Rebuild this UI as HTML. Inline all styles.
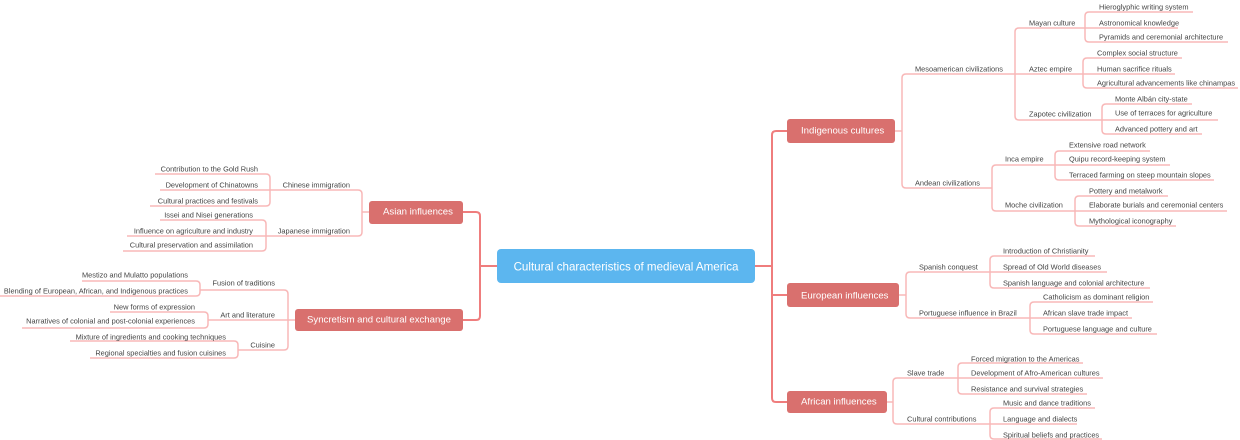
<!DOCTYPE html>
<html><head><meta charset="utf-8"><style>
html,body{margin:0;padding:0;background:#fff;width:1240px;height:440px;overflow:hidden}
svg{display:block}
text{font-family:"Liberation Sans",sans-serif}
.s{font-size:7.4px;fill:#444;dominant-baseline:central}
.r{text-anchor:end}
.m{font-size:9.6px;fill:#fff;dominant-baseline:central}
.c{font-size:11.6px;fill:#fff;dominant-baseline:central;text-anchor:middle}
.l{fill:none;stroke:#f8b8b8;stroke-width:1.5}
.t{fill:none;stroke:#ef7d7d;stroke-width:2}
</style></head><body>
<svg width="1240" height="440" viewBox="0 0 1240 440">
<!-- trunks -->
<path class="t" d="M755,266 H772 M787,131 H776 Q772,131 772,135 V398 Q772,402 776,402 H787 M772,295 H787"/>
<path class="t" d="M497,266 H480 M463,212 H476 Q480,212 480,216 V316 Q480,320 476,320 H463"/>
<rect x="497" y="249" width="258" height="34" rx="4" fill="#5cb6ef"/>
<text class="c" x="626" y="267">Cultural characteristics of medieval America</text>
<rect x="787" y="119" width="108" height="24" rx="3" fill="#d9706e"/>
<text class="m" x="801" y="131">Indigenous cultures</text>
<rect x="787" y="283" width="112" height="24" rx="3" fill="#d9706e"/>
<text class="m" x="801" y="296">European influences</text>
<rect x="787" y="391" width="100" height="22" rx="3" fill="#d9706e"/>
<text class="m" x="801" y="402">African influences</text>
<rect x="369" y="201" width="94" height="23" rx="3" fill="#d9706e"/>
<text class="m" x="383" y="212">Asian influences</text>
<rect x="295" y="309" width="168" height="22" rx="3" fill="#d9706e"/>
<text class="m" x="307" y="320">Syncretism and cultural exchange</text>

<!-- Indigenous -->
<path class="l" d="M895,131 H902 M902,131 V78 Q902,74 906,74 H1015 M902,131 V184 Q902,188 906,188 H992"/>
<text class="s" x="915" y="69">Mesoamerican civilizations</text>
<text class="s" x="915" y="183">Andean civilizations</text>
<path class="l" d="M1015,74 V32 Q1015,28 1019,28 H1085 M1015,74 H1083 M1015,74 V116 Q1015,120 1019,120 H1102"/>
<text class="s" x="1029" y="23">Mayan culture</text>
<text class="s" x="1029" y="69">Aztec empire</text>
<text class="s" x="1029" y="114">Zapotec civilization</text>
<path class="l" d="M1085,28 V16 Q1085,12 1089,12 H1193 M1085,28 H1178 M1085,28 V38 Q1085,42 1089,42 H1228"/>
<text class="s" x="1099" y="7">Hieroglyphic writing system</text>
<text class="s" x="1099" y="23">Astronomical knowledge</text>
<text class="s" x="1099" y="37">Pyramids and ceremonial architecture</text>
<path class="l" d="M1083,74 V62 Q1083,58 1087,58 H1182 M1083,74 H1175 M1083,74 V84 Q1083,88 1087,88 H1238"/>
<text class="s" x="1097" y="53">Complex social structure</text>
<text class="s" x="1097" y="69">Human sacrifice rituals</text>
<text class="s" x="1097" y="83">Agricultural advancements like chinampas</text>
<path class="l" d="M1102,120 V108 Q1102,104 1106,104 H1192 M1102,120 H1218 M1102,120 V130 Q1102,134 1106,134 H1202"/>
<text class="s" x="1115" y="99">Monte Albán city-state</text>
<text class="s" x="1115" y="113">Use of terraces for agriculture</text>
<text class="s" x="1115" y="129">Advanced pottery and art</text>
<path class="l" d="M992,188 V169 Q992,165 996,165 H1055 M992,188 V207 Q992,211 996,211 H1075"/>
<text class="s" x="1005" y="159">Inca empire</text>
<text class="s" x="1005" y="205">Moche civilization</text>
<path class="l" d="M1055,165 V155 Q1055,151 1059,151 H1150 M1055,165 H1170 M1055,165 V176 Q1055,180 1059,180 H1214"/>
<text class="s" x="1069" y="145">Extensive road network</text>
<text class="s" x="1069" y="159">Quipu record-keeping system</text>
<text class="s" x="1069" y="175">Terraced farming on steep mountain slopes</text>
<path class="l" d="M1075,211 V200 Q1075,196 1079,196 H1168 M1075,211 H1227 M1075,211 V222 Q1075,226 1079,226 H1176"/>
<text class="s" x="1089" y="191">Pottery and metalwork</text>
<text class="s" x="1089" y="205">Elaborate burials and ceremonial centers</text>
<text class="s" x="1089" y="221">Mythological iconography</text>

<!-- European -->
<path class="l" d="M899,295 H906 M906,295 V276 Q906,272 910,272 H990 M906,295 V314 Q906,318 910,318 H1030"/>
<text class="s" x="919" y="267">Spanish conquest</text>
<text class="s" x="919" y="313">Portuguese influence in Brazil</text>
<path class="l" d="M990,272 V260 Q990,256 994,256 H1095 M990,272 H1107 M990,272 V284 Q990,288 994,288 H1150"/>
<text class="s" x="1003" y="251">Introduction of Christianity</text>
<text class="s" x="1003" y="267">Spread of Old World diseases</text>
<text class="s" x="1003" y="283">Spanish language and colonial architecture</text>
<path class="l" d="M1030,318 V306 Q1030,302 1034,302 H1153 M1030,318 H1132 M1030,318 V330 Q1030,334 1034,334 H1157"/>
<text class="s" x="1043" y="297">Catholicism as dominant religion</text>
<text class="s" x="1043" y="313">African slave trade impact</text>
<text class="s" x="1043" y="329">Portuguese language and culture</text>

<!-- African -->
<path class="l" d="M887,402 H893 M893,402 V382 Q893,378 897,378 H958 M893,402 V420 Q893,424 897,424 H990"/>
<text class="s" x="907" y="373">Slave trade</text>
<text class="s" x="907" y="419">Cultural contributions</text>
<path class="l" d="M958,378 V367 Q958,363 962,363 H1083 M958,378 H1103 M958,378 V390 Q958,394 962,394 H1087"/>
<text class="s" x="971" y="359">Forced migration to the Americas</text>
<text class="s" x="971" y="373">Development of Afro-American cultures</text>
<text class="s" x="971" y="389">Resistance and survival strategies</text>
<path class="l" d="M990,424 V412 Q990,408 994,408 H1095 M990,424 H1077 M990,424 V435 Q990,439 994,439 H1102"/>
<text class="s" x="1003" y="403">Music and dance traditions</text>
<text class="s" x="1003" y="419">Language and dialects</text>
<text class="s" x="1003" y="435">Spiritual beliefs and practices</text>

<!-- Asian -->
<path class="l" d="M369,212 H362 M362,212 V194 Q362,190 358,190 H270 M362,212 V232 Q362,236 358,236 H266"/>
<text class="s r" x="350" y="185">Chinese immigration</text>
<text class="s r" x="350" y="231">Japanese immigration</text>
<path class="l" d="M270,190 V178 Q270,174 266,174 H155 M270,190 H160 M270,190 V202 Q270,206 266,206 H150"/>
<text class="s r" x="258" y="169">Contribution to the Gold Rush</text>
<text class="s r" x="258" y="185">Development of Chinatowns</text>
<text class="s r" x="258" y="201">Cultural practices and festivals</text>
<path class="l" d="M266,236 V224 Q266,220 262,220 H160 M266,236 H127 M266,236 V247 Q266,251 262,251 H123"/>
<text class="s r" x="253" y="215">Issei and Nisei generations</text>
<text class="s r" x="253" y="231">Influence on agriculture and industry</text>
<text class="s r" x="253" y="245">Cultural preservation and assimilation</text>

<!-- Syncretism -->
<path class="l" d="M295,320 H288 M288,320 V294 Q288,290 284,290 H200 M288,320 H208 M288,320 V346 Q288,350 284,350 H238"/>
<text class="s r" x="275" y="283">Fusion of traditions</text>
<text class="s r" x="275" y="315">Art and literature</text>
<text class="s r" x="275" y="345">Cuisine</text>
<path class="l" d="M200,290 V285 Q200,281 196,281 H82 M200,290 V292 Q200,296 196,296 H0"/>
<text class="s r" x="188" y="275">Mestizo and Mulatto populations</text>
<text class="s r" x="188" y="291">Blending of European, African, and Indigenous practices</text>
<path class="l" d="M208,320 V316 Q208,312 204,312 H110 M208,320 V324 Q208,328 204,328 H22"/>
<text class="s r" x="195" y="307">New forms of expression</text>
<text class="s r" x="195" y="321">Narratives of colonial and post-colonial experiences</text>
<path class="l" d="M238,350 V345 Q238,341 234,341 H70 M238,350 V354 Q238,358 234,358 H90"/>
<text class="s r" x="226" y="337">Mixture of ingredients and cooking techniques</text>
<text class="s r" x="226" y="353">Regional specialties and fusion cuisines</text>
</svg>
</body></html>
